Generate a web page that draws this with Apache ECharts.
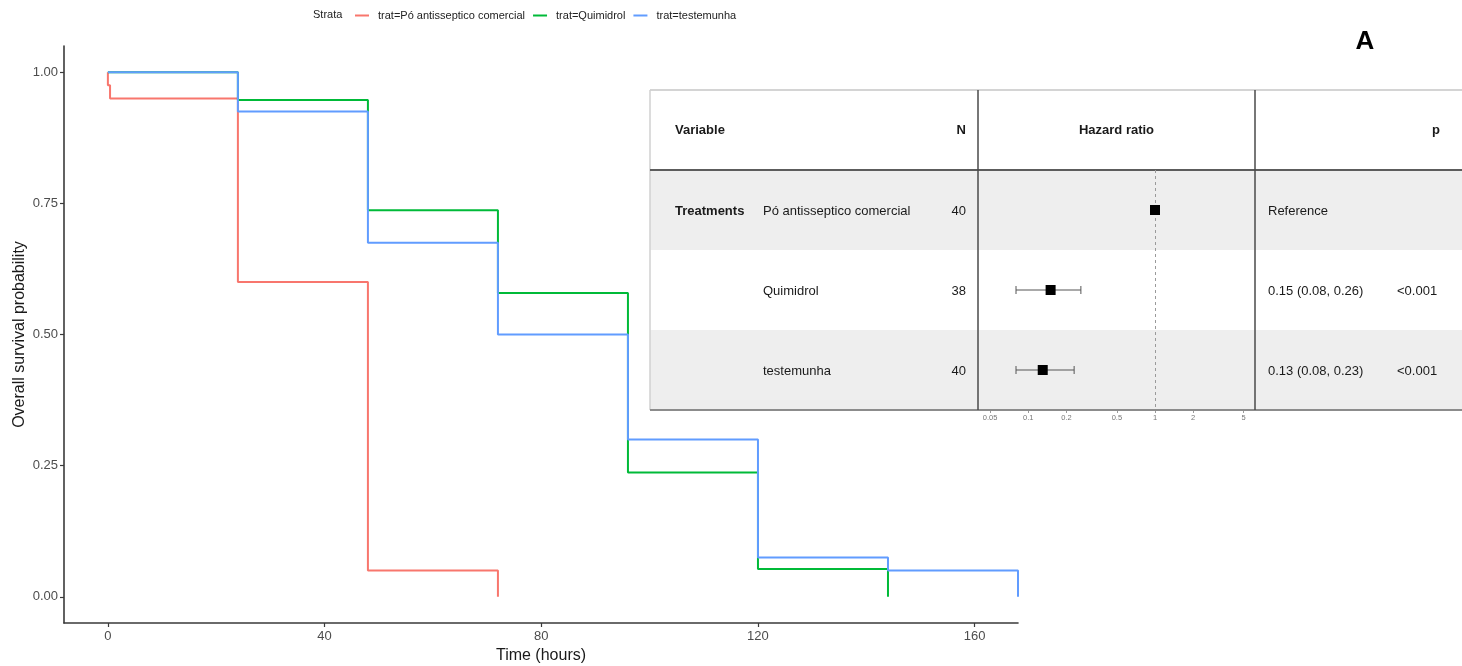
<!DOCTYPE html>
<html><head><meta charset="utf-8">
<script src="https://cdn.jsdelivr.net/npm/echarts@6/dist/echarts.min.js"></script>
<style>html,body{margin:0;padding:0;background:#fff}#c{width:1462px;height:666px}</style>
</head><body><div id="c"></div>
<script>
// ---- Kaplan-Meier data ----
const seriesNames = ['trat=Pó antisseptico comercial', 'trat=Quimidrol', 'trat=testemunha'];
const timePo  = [0, 0, 0.4, 24, 48, 72];
const survPo  = [1, 0.975, 0.95, 0.60, 0.05, 0];
const timeQui = [0, 24, 48, 72, 96, 120, 144];
const survQui = [1, 0.947, 0.737, 0.579, 0.237, 0.053, 0];
const timeTes = [0, 24, 48, 72, 96, 120, 144, 168];
const survTes = [1, 0.925, 0.675, 0.50, 0.30, 0.075, 0.05, 0];
const xTicks = [0, 40, 80, 120, 160];
const yTicks = [0, 0.25, 0.5, 0.75, 1];

// ---- Forest plot data ----
const forestVariable = 'Treatments';
const forestLevels = ['Pó antisseptico comercial', 'Quimidrol', 'testemunha'];
const forestN = [40, 38, 40];
const forestHR = [1, 0.15, 0.13];
const forestLo = [null, 0.08, 0.08];
const forestHi = [null, 0.26, 0.23];
const forestHRText = ['Reference', '0.15 (0.08, 0.26)', '0.13 (0.08, 0.23)'];
const forestP = ['', '<0.001', '<0.001'];
const forestTicks = [0.05, 0.1, 0.2, 0.5, 1, 2, 5];

// ---- styling / layout ----
const colors = ['#F8766D', '#00BA38', '#619CFF'];
const FONT = '"Liberation Sans", Arial, sans-serif';
const TB = { left: 650, right: 1480, top: 90, head: 170, rowH: 80, c1: 978, c2: 1255 };

function pairs(t, s) { return t.map((v, i) => [v, s[i]]); }
function txt(x, y, text, opt) {
  opt = opt || {};
  return {
    type: 'text', x: x, y: y, z: 5, silent: true,
    style: {
      text: text, font: (opt.bold ? 'bold ' : '') + (opt.size || 13) + 'px ' + FONT,
      fill: opt.color || '#1a1a1a',
      align: opt.align || 'left', verticalAlign: 'middle',
      textAlign: opt.align || 'left', textVerticalAlign: 'middle'
    }
  };
}
function ln(x1, y1, x2, y2, color, w, z) {
  return { type: 'line', z: z || 1, silent: true, shape: { x1, y1, x2, y2 }, style: { stroke: color, lineWidth: w } };
}

const graphics = [];
// row backgrounds
forestLevels.forEach((lv, i) => {
  if (i % 2 === 0) {
    graphics.push({ type: 'rect', z: 0, silent: true,
      shape: { x: TB.left, y: TB.head + i * TB.rowH, width: TB.right - TB.left, height: TB.rowH },
      style: { fill: '#eeeeee' } });
  }
});
const tBottom = TB.head + forestLevels.length * TB.rowH;
graphics.push(ln(TB.left, TB.top, TB.right, TB.top, '#d4d4d4', 2));
graphics.push(ln(TB.left, TB.top, TB.left, tBottom, '#d0d0d0', 1.5));
graphics.push(ln(TB.left, TB.head, TB.right, TB.head, '#5c5c5c', 2));
graphics.push(ln(TB.left, tBottom, TB.right, tBottom, '#8c8c8c', 2));
graphics.push(ln(TB.c1, TB.top, TB.c1, tBottom, '#4a4a4a', 1.5));
graphics.push(ln(TB.c2, TB.top, TB.c2, tBottom, '#4a4a4a', 1.5));
// header
const hy = (TB.top + TB.head) / 2;
graphics.push(txt(675, hy, 'Variable', { bold: true }));
graphics.push(txt(966, hy, 'N', { bold: true, align: 'right' }));
graphics.push(txt((TB.c1 + TB.c2) / 2, hy, 'Hazard ratio', { bold: true, align: 'center' }));
graphics.push(txt(1432, hy, 'p', { bold: true }));
// rows
forestLevels.forEach((lv, i) => {
  const y = TB.head + i * TB.rowH + TB.rowH / 2 + 1;
  if (i === 0) graphics.push(txt(675, y, forestVariable, { bold: true }));
  graphics.push(txt(763, y, lv));
  graphics.push(txt(966, y, String(forestN[i]), { align: 'right' }));
  graphics.push(txt(1268, y, forestHRText[i]));
  if (forestP[i]) graphics.push(txt(1397, y, forestP[i]));
});
// legend title and panel tag
graphics.push(txt(313, 15, 'Strata', { size: 11, color: '#222' }));
graphics.push(txt(1365, 42, 'A', { size: 26, bold: true, align: 'center', color: '#000' }));

const errData = [];
forestLevels.forEach((lv, i) => { if (forestLo[i] != null) errData.push([forestLo[i], forestHi[i], i]); });

const axisColor = '#3a3a3a';
const option = {
  animation: false,
  backgroundColor: '#ffffff',
  textStyle: { fontFamily: FONT },
  legend: {
    data: seriesNames, left: 355, top: 10, padding: 0, icon: 'rect', itemWidth: 14, itemHeight: 2, itemGap: 8,
    textStyle: { fontSize: 11, color: '#222', padding: [0, 0, 0, 4] }
  },
  grid: [
    { left: 64, top: 46, width: 954, height: 577, outerBoundsMode: 'none', containLabel: false },
    { left: TB.c1, top: TB.head, width: TB.c2 - TB.c1, height: tBottom - TB.head, outerBoundsMode: 'none', containLabel: false }
  ],
  xAxis: [
    {
      type: 'value', gridIndex: 0, min: -8.1, max: 168,
      name: 'Time (hours)', nameLocation: 'middle', nameGap: 25, nameMoveOverlap: false,
      nameTextStyle: { fontSize: 16, color: '#1a1a1a' },
      axisLine: { onZero: false, lineStyle: { color: axisColor, width: 1.6 } },
      axisTick: { show: true, length: 4, customValues: xTicks, lineStyle: { color: axisColor, width: 1.2 } },
      axisLabel: { customValues: xTicks, fontSize: 13, color: '#4d4d4d', margin: 7 },
      splitLine: { show: false }
    },
    {
      type: 'log', logBase: 10, gridIndex: 1, min: 0.0401, max: 6.15,
      axisLine: { show: false, onZero: false },
      axisTick: { show: true, length: 3, customValues: forestTicks, lineStyle: { color: '#9a9a9a', width: 1 } },
      axisLabel: { customValues: forestTicks, fontSize: 7.5, color: '#777', margin: 4,
        formatter: v => String(+(+v).toPrecision(3)) },
      splitLine: { show: false }
    }
  ],
  yAxis: [
    {
      type: 'value', gridIndex: 0, min: -0.05, max: 1.05,
      name: 'Overall survival probability', nameLocation: 'middle', nameGap: 36, nameMoveOverlap: false,
      nameTextStyle: { fontSize: 16, color: '#1a1a1a' },
      axisLine: { show: true, onZero: false, lineStyle: { color: axisColor, width: 1.6 } },
      axisTick: { show: true, length: 4, customValues: yTicks, lineStyle: { color: axisColor, width: 1.2 } },
      axisLabel: { customValues: yTicks, fontSize: 13, color: '#4d4d4d', margin: 6, formatter: v => (+v).toFixed(2) },
      splitLine: { show: false }
    },
    {
      type: 'category', gridIndex: 1, data: forestLevels, inverse: true, show: false
    }
  ],
  series: [
    { type: 'line', name: seriesNames[0], step: 'end', data: pairs(timePo, survPo), symbol: 'none',
      lineStyle: { color: colors[0], width: 2 }, itemStyle: { color: colors[0] } },
    { type: 'line', name: seriesNames[1], step: 'end', data: pairs(timeQui, survQui), symbol: 'none',
      lineStyle: { color: colors[1], width: 2 }, itemStyle: { color: colors[1] } },
    { type: 'line', name: seriesNames[2], step: 'end', data: pairs(timeTes, survTes), symbol: 'none',
      lineStyle: { color: colors[2], width: 2 }, itemStyle: { color: colors[2] } },
    {
      type: 'custom', xAxisIndex: 1, yAxisIndex: 1, data: errData, encode: { x: [0, 1], y: 2 }, z: 3,
      renderItem: (params, api) => {
        const a = api.coord([api.value(0), api.value(2)]);
        const b = api.coord([api.value(1), api.value(2)]);
        const h = 4, st = { stroke: '#555', lineWidth: 1 };
        return { type: 'group', children: [
          { type: 'line', shape: { x1: a[0], y1: a[1], x2: b[0], y2: b[1] }, style: st },
          { type: 'line', shape: { x1: a[0], y1: a[1] - h, x2: a[0], y2: a[1] + h }, style: st },
          { type: 'line', shape: { x1: b[0], y1: b[1] - h, x2: b[0], y2: b[1] + h }, style: st }
        ] };
      }
    },
    {
      type: 'scatter', xAxisIndex: 1, yAxisIndex: 1, z: 4,
      data: forestHR.map((v, i) => [v, i]), symbol: 'rect', symbolSize: 10,
      itemStyle: { color: '#000', opacity: 1 },
      markLine: { silent: true, symbol: 'none', label: { show: false }, z: 2,
        lineStyle: { type: [3, 3], color: '#9a9a9a', width: 1 }, data: [{ xAxis: 1 }] }
    }
  ],
  graphic: graphics
};
const chart = echarts.init(document.getElementById('c'), null, { renderer: 'canvas' });
chart.setOption(option);
</script>
</body></html>
